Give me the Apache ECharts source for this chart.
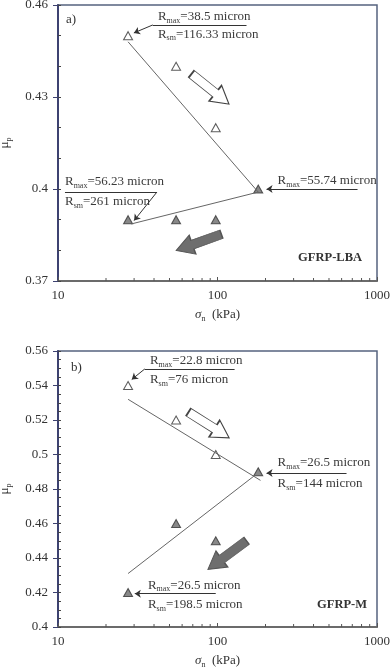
<!DOCTYPE html>
<html>
<head>
<meta charset="utf-8">
<script src="https://cdn.jsdelivr.net/npm/echarts@6/dist/echarts.min.js"></script>
<style>
  html, body { margin: 0; padding: 0; background: #fff; }
  #chart { width: 391px; height: 669px; }
</style>
</head>
<body>
<div id="chart"></div>
<script>
// ---- data ----
const stressOpenA = [27.5, 55, 97.5];
const muOpenA = [0.45, 0.44, 0.42];
const stressFilledA = [27.5, 55, 97.5, 180];
const muFilledA = [0.39, 0.39, 0.39, 0.40];
const trendA1 = [[27.5, 0.448], [180, 0.399]];
const trendA2 = [[180, 0.399], [28.8, 0.3886]];

const stressOpenB = [27.5, 55, 97.5];
const muOpenB = [0.54, 0.52, 0.50];
const stressFilledB = [27.5, 55, 97.5, 180];
const muFilledB = [0.42, 0.46, 0.45, 0.49];
const trendB1 = [[27.5, 0.532], [186, 0.485]];
const trendB2 = [[27.5, 0.431], [172, 0.488]];

const xLabels = ["10", "100", "1000"];
const xMinor = [20, 30, 40, 50, 60, 70, 80, 90, 200, 300, 400, 500, 600, 700, 800, 900];
const yLabelsA = ["0.37", "0.4", "0.43", "0.46"];
const yLabelsB = ["0.4", "0.42", "0.44", "0.46", "0.48", "0.5", "0.52", "0.54", "0.56"];

// annotations (data coords)
const annTextA = [
  [42.3, 0.4561, "{r|R}{s|max}{r|=38.5 micron}"],
  [42.3, 0.4505, "{r|R}{s|sm}{r|=116.33 micron}"],
  [11.06, 0.4023, "{r|R}{s|max}{r|=56.23 micron}"],
  [11.06, 0.3958, "{r|R}{s|sm}{r|=261 micron}"],
  [238, 0.4026, "{r|R}{s|max}{r|=55.74 micron}"]
];
const annSegA = [
  [[39.3, 0.4535], [152, 0.4535], false],
  [[39.3, 0.4535], [29.9, 0.4509], true],
  [[11.06, 0.399], [41.7, 0.399], false],
  [[41.7, 0.399], [30, 0.3897], true],
  [[755, 0.4], [203, 0.4], true]
];
const annTextB = [
  [37.7, 0.5542, "{r|R}{s|max}{r|=22.8 micron}"],
  [37.7, 0.5432, "{r|R}{s|sm}{r|=76 micron}"],
  [238, 0.4951, "{r|R}{s|max}{r|=26.5 micron}"],
  [238, 0.4829, "{r|R}{s|sm}{r|=144 micron}"],
  [36.6, 0.4243, "{r|R}{s|max}{r|=26.5 micron}"],
  [36.6, 0.4128, "{r|R}{s|sm}{r|=198.5 micron}"]
];
const annSegB = [
  [[35, 0.5496], [128, 0.5496], false],
  [[35, 0.5496], [29, 0.5435], true],
  [[644, 0.4893], [203, 0.4893], true],
  [[97.5, 0.4193], [30.3, 0.4193], true]
];
// block arrows: [x, y, rotate, hollow]
const blockA = [[90, 0.4326, -38.7, true], [76.3, 0.3826, 199.7, false]];
const blockB = [[88.2, 0.5171, -32.3, true], [115, 0.4417, 216.6, false]];

const FONT = "Liberation Serif";
const rich = {
  r: { fontFamily: FONT, fontSize: 13, color: "#3a3a3a", lineHeight: 16 },
  s: { fontFamily: FONT, fontSize: 8, color: "#3a3a3a", lineHeight: 9, verticalAlign: "bottom" }
};
const arrowPath = "path://M0,6L32,6L32,0L50,11L32,22L32,16L0,16Z";

function pick(labels) {
  return function (v) {
    const hit = labels.find(t => Math.abs(parseFloat(t) - v) < 1e-6);
    return hit || "";
  };
}

function xAxisOf(i) {
  return {
    gridIndex: i, type: "log", logBase: 10, min: 10, max: 1000,
    axisLine: { onZero: false, lineStyle: { color: "#6b6b6b", width: 2 } },
    axisTick: { inside: true, length: 4, lineStyle: { color: "#555" } },
    axisLabel: { fontFamily: FONT, fontSize: 13, color: "#333", margin: 8,
      formatter: v => xLabels.find(t => Math.abs(parseFloat(t) - v) < 1e-3) || "" },
    splitLine: { show: false },
    name: "{i|σ}{s|n}{r|  (kPa)}",
    nameLocation: "middle", nameGap: 26,
    nameTextStyle: { rich: {
      i: { fontFamily: FONT, fontStyle: "italic", fontSize: 13, color: "#333", lineHeight: 16 },
      s: { fontFamily: FONT, fontSize: 8, color: "#333", lineHeight: 9, verticalAlign: "bottom" },
      r: { fontFamily: FONT, fontSize: 13, color: "#333", lineHeight: 16 } } }
  };
}

function yMain(i, min, max, step, labels) {
  return {
    gridIndex: i, type: "value", position: "left", min: min, max: max, interval: step,
    axisLine: { onZero: false, lineStyle: { color: "#3d4271", width: 2 } },
    axisTick: { inside: true, length: 3, lineStyle: { color: "#444" } },
    axisLabel: { fontFamily: FONT, fontSize: 13, color: "#333", margin: 10, formatter: pick(labels) },
    splitLine: { show: false },
    name: "{m|μ}{s|p}", nameLocation: "middle", nameRotate: 90, nameGap: 45,
    nameTextStyle: { rich: {
      m: { fontFamily: FONT, fontSize: 13, color: "#333", lineHeight: 16 },
      s: { fontFamily: FONT, fontSize: 8, color: "#333", lineHeight: 9, verticalAlign: "bottom" } } }
  };
}

function yMajor(i, span, step) {
  return {
    gridIndex: i, type: "value", position: "left", min: 0, max: span, interval: step,
    axisLine: { show: false, onZero: false },
    axisTick: { inside: false, length: 5, lineStyle: { color: "#3d4271", width: 1 } },
    axisLabel: { show: false }, splitLine: { show: false }
  };
}

function panelSeries(xi, yi, openX, openY, fillX, fillY, t1, t2, texts, segs, blocks, yMin) {
  const zipped = (xs, ys) => xs.map((x, k) => [x, ys[k]]);
  return [
    { type: "line", xAxisIndex: xi, yAxisIndex: yi, data: t1, symbol: "none",
      lineStyle: { color: "#666", width: 1 }, silent: true },
    { type: "line", xAxisIndex: xi, yAxisIndex: yi, data: t2, symbol: "none",
      lineStyle: { color: "#666", width: 1 }, silent: true },
    { type: "scatter", xAxisIndex: xi, yAxisIndex: yi, data: zipped(openX, openY),
      symbol: "triangle", symbolSize: [9, 8],
      itemStyle: { color: "#fff", borderColor: "#333", borderWidth: 1 } },
    { type: "scatter", xAxisIndex: xi, yAxisIndex: yi, data: zipped(fillX, fillY),
      symbol: "triangle", symbolSize: [9, 8],
      itemStyle: { color: "#6a6a6a", borderColor: "#333", borderWidth: 1 } },
    { type: "scatter", xAxisIndex: xi, yAxisIndex: yi, data: [], silent: true,
      markLine: {
        silent: true, animation: false, symbolSize: 6,
        label: { show: false },
        lineStyle: { color: "#333", width: 1, type: "solid" },
        data: segs.map(s => [
          { coord: s[0], symbol: "none" },
          { coord: s[1], symbol: s[2] ? "arrow" : "none" }
        ])
      },
      markPoint: {
        silent: true, animation: false,
        data: texts.map(t => ({
          coord: [t[0], t[1]], symbol: "circle", symbolSize: 0,
          label: { show: true, position: "right", distance: 0, formatter: t[2], rich: rich }
        })).concat(blocks.map(b => ({
          coord: [b[0], b[1]], symbol: arrowPath, symbolSize: [48, 20], symbolRotate: b[2],
          symbolKeepAspect: false,
          itemStyle: b[3] ? { color: "#fff", borderColor: "#444", borderWidth: 1.2 }
                          : { color: "#6e6e6e", borderColor: "#555", borderWidth: 1 },
          label: { show: false }
        })))
      } },
    { type: "custom", xAxisIndex: xi, yAxisIndex: yi, silent: true,
      data: xMinor.map(v => [v, yMin]),
      renderItem: function (params, api) {
        const p = api.coord([api.value(0), api.value(1)]);
        return { type: "line", shape: { x1: p[0], y1: p[1], x2: p[0], y2: p[1] - 3 },
          style: { stroke: "#555", lineWidth: 1 } };
      } }
  ];
}

const chart = echarts.init(document.getElementById("chart"));
chart.setOption({
  animation: false,
  backgroundColor: "#fff",
  grid: [
    { left: 58, top: 5, width: 319, height: 276, show: true, borderColor: "#56637f", borderWidth: 1.5,
      containLabel: false, outerBoundsMode: "none" },
    { left: 58, top: 351, width: 319, height: 276, show: true, borderColor: "#56637f", borderWidth: 1.5,
      containLabel: false, outerBoundsMode: "none" }
  ],
  xAxis: [xAxisOf(0), xAxisOf(1)],
  yAxis: [
    yMain(0, 0.37, 0.46, 0.01, yLabelsA), yMajor(0, 0.09, 0.03),
    yMain(1, 0.4, 0.56, 0.005, yLabelsB), yMajor(1, 0.16, 0.02)
  ],
  graphic: [
    { type: "text", x: 66, y: 20, style: { text: "a)", font: "13px '" + FONT + "'", fill: "#333", verticalAlign: "middle", textVerticalAlign: "middle" } },
    { type: "text", x: 362, y: 258, style: { text: "GFRP-LBA", font: "bold 12.5px '" + FONT + "'", fill: "#333", align: "right", textAlign: "right", verticalAlign: "middle", textVerticalAlign: "middle" } },
    { type: "text", x: 71, y: 368, style: { text: "b)", font: "13px '" + FONT + "'", fill: "#333", verticalAlign: "middle", textVerticalAlign: "middle" } },
    { type: "text", x: 367, y: 605, style: { text: "GFRP-M", font: "bold 12.5px '" + FONT + "'", fill: "#333", align: "right", textAlign: "right", verticalAlign: "middle", textVerticalAlign: "middle" } }
  ],
  series: []
    .concat(panelSeries(0, 0, stressOpenA, muOpenA, stressFilledA, muFilledA, trendA1, trendA2, annTextA, annSegA, blockA, 0.37))
    .concat(panelSeries(1, 2, stressOpenB, muOpenB, stressFilledB, muFilledB, trendB1, trendB2, annTextB, annSegB, blockB, 0.4))
});
</script>
</body>
</html>
